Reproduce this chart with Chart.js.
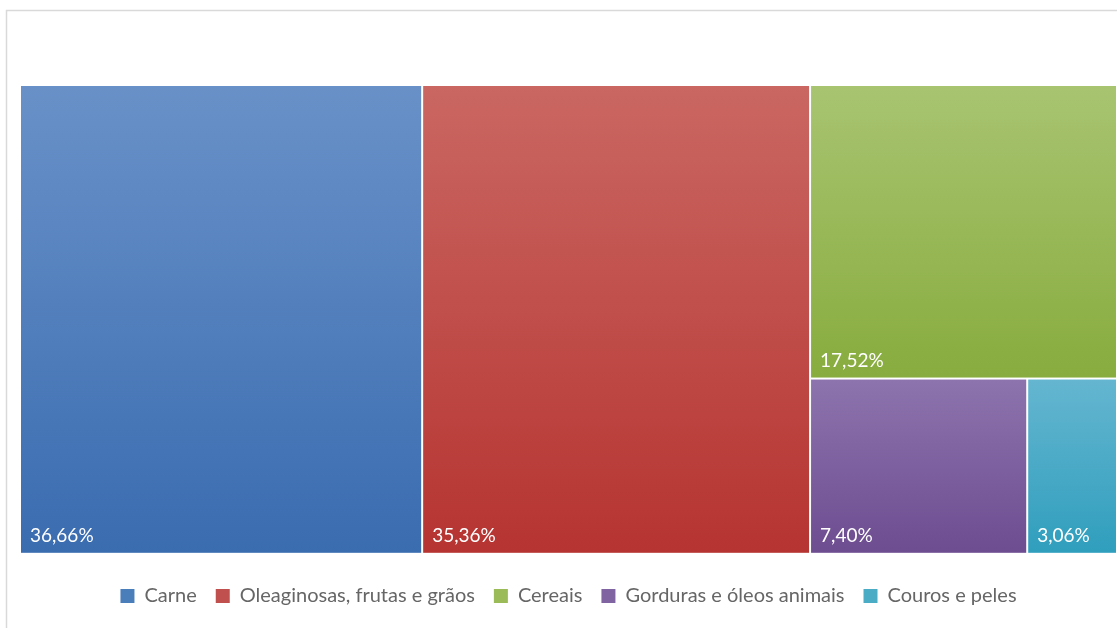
<!DOCTYPE html>
<html>
<head>
<meta charset="utf-8">
<script src="https://cdn.jsdelivr.net/npm/chart.js@4.4.1/dist/chart.umd.min.js"></script>
<style>
  html, body { margin: 0; padding: 0; background: #ffffff; }
  #wrap { position: relative; width: 1117px; height: 628px; }
</style>
</head>
<body>
<div id="wrap"><canvas id="chart" width="1117" height="628"></canvas></div>
<script>
// Export shares by product group (%)
const categories = ['Carne', 'Oleaginosas, frutas e grãos', 'Cereais', 'Gorduras e óleos animais', 'Couros e peles'];
const shares = [36.66, 35.36, 17.52, 7.40, 3.06];
const shareLabels = ['36,66%', '35,36%', '17,52%', '7,40%', '3,06%'];
const colorsTop = ['#6991c8', '#ca6762', '#a8c471', '#8d74ae', '#65b6d0'];
const colorsBottom = ['#3a6cb0', '#b63431', '#88ac3e', '#6d4c90', '#2f9ebd'];
const legendColors = ['#4a7ebb', '#c0504d', '#9bbb59', '#8064a2', '#4bacc6'];

const FONT = 'Lato, "Open Sans", sans-serif';

// Squarified treemap layout, returns rectangles as fractions of the container
function squarify(values, W, H) {
  const total = values.reduce((a, b) => a + b, 0);
  const items = values.map((v, i) => ({ i, a: v / total * W * H }));
  const out = [];
  let x = 0, y = 0, w = W, h = H;
  let k = 0;
  const worst = (row, side) => {
    const s = row.reduce((a, r) => a + r.a, 0);
    let m = 0;
    row.forEach(r => {
      const len = s / side, other = r.a / len;
      m = Math.max(m, len / other, other / len);
    });
    return m;
  };
  while (k < items.length) {
    const side = Math.min(w, h);
    let row = [items[k++]];
    while (k < items.length && worst(row.concat(items[k]), side) <= worst(row, side)) {
      row.push(items[k++]);
    }
    const s = row.reduce((a, r) => a + r.a, 0);
    if (w >= h) {
      const cw = s / h;
      let cy = y;
      row.forEach(r => { const rh = r.a / cw; out[r.i] = { x0: x, y0: cy, x1: x + cw, y1: cy + rh }; cy += rh; });
      x += cw; w -= cw;
    } else {
      const rh = s / w;
      let cx = x;
      row.forEach(r => { const rw = r.a / rh; out[r.i] = { x0: cx, y0: y, x1: cx + rw, y1: y + rh }; cx += rw; });
      y += rh; h -= rh;
    }
  }
  return out.map(r => ({ x0: r.x0 / W, y0: r.y0 / H, x1: r.x1 / W, y1: r.y1 / H }));
}

// Light grey chart border
const frame = {
  id: 'frame',
  beforeDraw(chart) {
    const ctx = chart.ctx;
    ctx.save();
    ctx.strokeStyle = '#d9d9d9';
    ctx.lineWidth = 1.5;
    ctx.strokeRect(6.5, 10.5, 1300, 800);
    ctx.restore();
  }
};

// Cells placed on the x/y scales, shaded top to bottom, value in the lower-left corner
const treemap = {
  id: 'treemap',
  afterDatasetsDraw(chart) {
    const { ctx, chartArea, scales } = chart;
    const xs = scales.x, ys = scales.y;
    const rects = squarify(shares, chartArea.width, chartArea.height);
    ctx.save();
    rects.forEach((r, i) => {
      const left = xs.getPixelForValue(r.x0 * 100);
      const right = xs.getPixelForValue(r.x1 * 100);
      const top = ys.getPixelForValue(r.y0 * 100);
      const bottom = ys.getPixelForValue(r.y1 * 100);
      const g = ctx.createLinearGradient(0, top, 0, bottom);
      g.addColorStop(0, colorsTop[i]);
      g.addColorStop(1, colorsBottom[i]);
      ctx.fillStyle = g;
      ctx.fillRect(left + 1, top + 1, right - left - 2, bottom - top - 2);
      ctx.fillStyle = '#ffffff';
      ctx.font = '19px ' + FONT;
      ctx.textBaseline = 'alphabetic';
      ctx.textAlign = 'left';
      ctx.fillText(shareLabels[i], left + 10, bottom - 12);
    });
    ctx.restore();
  }
};

new Chart(document.getElementById('chart'), {
  type: 'scatter',
  data: {
    datasets: [{ label: 'share', data: [] }]
  },
  options: {
    responsive: false,
    animation: false,
    layout: { padding: { left: 20, top: 85, right: 0, bottom: 12 } },
    scales: {
      x: { type: 'linear', min: 0, max: 100, display: false },
      y: { type: 'linear', min: 0, max: 100, reverse: true, display: false }
    },
    plugins: {
      tooltip: { enabled: false },
      legend: {
        position: 'bottom',
        title: { display: true, text: '', font: { size: 1 }, padding: { top: 12, bottom: 0 } },
        labels: {
          boxWidth: 14,
          boxHeight: 14,
          padding: 19,
          color: '#404040',
          font: { family: FONT, size: 20 },
          generateLabels: () => categories.map((c, i) => ({
            text: c,
            fillStyle: legendColors[i],
            strokeStyle: legendColors[i],
            lineWidth: 0,
            hidden: false,
            datasetIndex: 0
          }))
        }
      }
    }
  },
  plugins: [frame, treemap]
});
</script>
</body>
</html>
